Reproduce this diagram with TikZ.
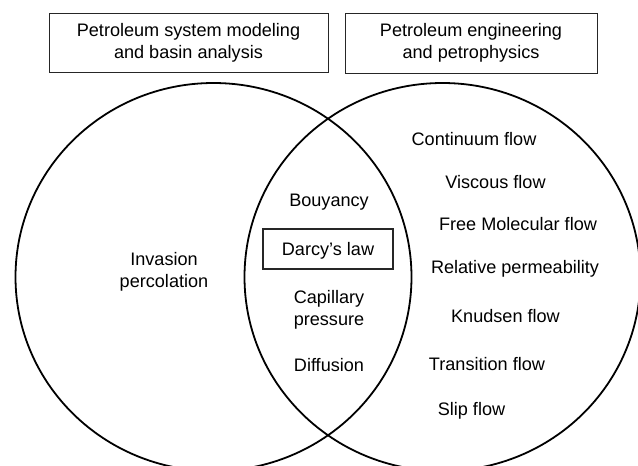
\documentclass[tikz,border=0pt]{standalone}
\usepackage{fontspec}
\setmainfont{Liberation Sans}
\begin{document}
\begin{tikzpicture}[x=1pt,y=-1pt,
  txt/.style={inner sep=0pt, align=center, font=\fontsize{18.1}{22}\selectfont},
  hdr/.style={draw=black!85, line width=0.9pt, inner sep=0pt, align=center, font=\fontsize{18.1}{22}\selectfont},
  ring/.style={draw=black, line width=1.8pt},
  lawbox/.style={draw=black!85, line width=1.4pt, inner sep=0pt, align=center, font=\fontsize{18.1}{22}\selectfont}]
\useasboundingbox (0,0) rectangle (638,466);
\clip (0,0) rectangle (638,466);
\fill[white] (0,0) rectangle (638,466);
% circles
\draw[ring] (213.5,277) ellipse [x radius=198, y radius=194];
\draw[ring] (442.5,277) ellipse [x radius=198, y radius=194];
% header boxes
\node[hdr, minimum width=279pt, minimum height=59pt] (h1) at (188.5,42.5) {Petroleum system modeling\\and basin analysis};
\node[hdr, minimum width=252pt, minimum height=60pt] (h2) at (471,43) {Petroleum engineering\\and petrophysics};
% left
\node[txt] (ip) at (164,272) {Invasion\\percolation};
% lens
\node[txt] (bo) at (329,202) {Bouyancy};
\node[lawbox, minimum width=130pt, minimum height=40pt, text depth=1pt] (dl) at (328,249) {Darcy’s law};
\node[txt] (cp) at (329,310) {Capillary\\pressure};
\node[txt] (di) at (329,365) {Diffusion};
% right
\node[txt] (cf) at (474,139) {Continuum flow};
\node[txt] (vf) at (495.5,182) {Viscous flow};
\node[txt] (fm) at (518,224) {Free Molecular flow};
\node[txt] (rp) at (515,269) {Relative permeability};
\node[txt] (kf) at (505.5,316) {Knudsen flow};
\node[txt] (tf) at (487,364) {Transition flow};
\node[txt] (sf) at (471.5,411) {Slip flow};
\end{tikzpicture}
\end{document}
